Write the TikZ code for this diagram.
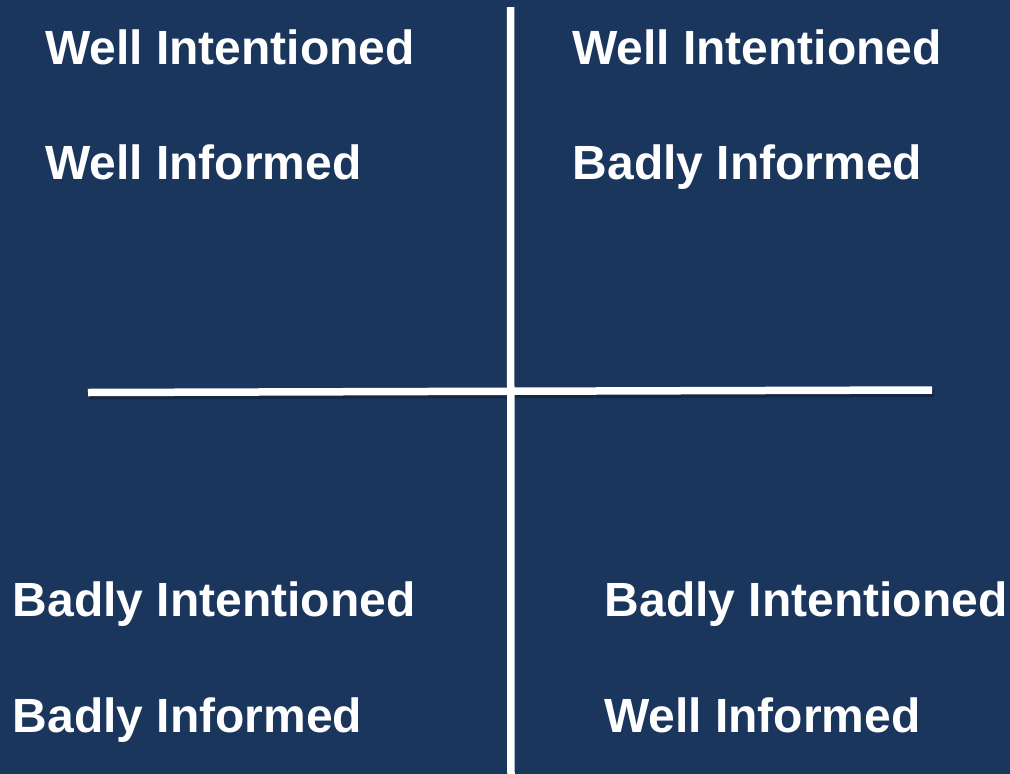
\documentclass[tikz,border=0pt]{standalone}
\usepackage{fontspec}
\setmainfont{Liberation Sans}
\usepackage{tikz}
\usetikzlibrary{positioning}

\definecolor{panelblue}{RGB}{27,54,93}

\begin{document}
\begin{tikzpicture}[x=1pt, y=-1pt, every node/.style={font=\fontsize{48}{56}\selectfont\bfseries}]
      \tikzstyle{quadtext}=[text=white, inner sep=0pt, anchor=base west]
      \tikzstyle{axis}=[draw=white, line width=7.5pt]
      \tikzstyle{axisshadow}=[draw=black, opacity=0.25, line width=7pt]
      % background
      \fill[panelblue] (0,0) rectangle (1010,774);
      \useasboundingbox (0,0) rectangle (1010,774);

      % axis end points
      \coordinate (vtop) at (510.5,7);
      \coordinate (vbot) at (511,780);
      \coordinate (hleft) at (88,392.5);
      \coordinate (hright) at (932,390);
      \coordinate (hleftsh) at (90,396);
      \coordinate (hrightsh) at (934,393.5);

      \draw[axisshadow] (hleftsh) -- (hrightsh);
      \draw[axis] (vtop) -- (vbot);
      \draw[axis] (hleft) -- (hright);

      % quadrant labels
      \node[quadtext] (q1a) at (45,64) {Well Intentioned};
      \node[quadtext] (q1b) at (45,179) {Well Informed};
      \node[quadtext] (q2a) at (572,64) {Well Intentioned};
      \node[quadtext] (q2b) at (572.5,179) {Badly Informed};
      \node[quadtext] (q3a) at (12.5,616) {Badly Intentioned};
      \node[quadtext] (q3b) at (12.5,732) {Badly Informed};
      \node[quadtext] (q4a) at (604.5,616) {Badly Intentioned};
      \node[quadtext] (q4b) at (604,732) {Well Informed};
    \end{tikzpicture}
\end{document}
